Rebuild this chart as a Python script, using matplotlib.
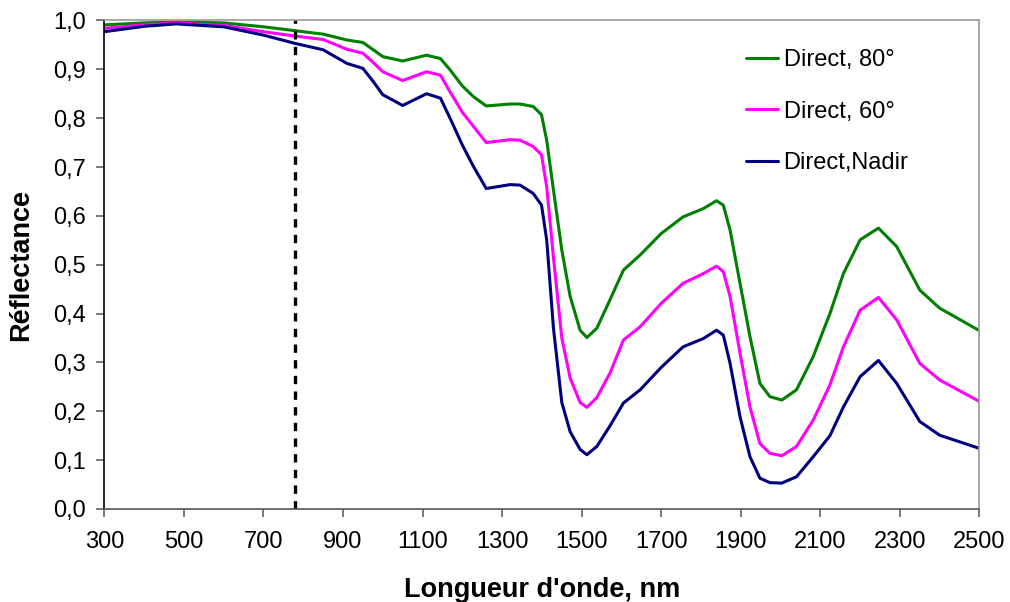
import matplotlib.pyplot as plt
import numpy as np

plt.rcParams['font.family'] = ['Liberation Sans', 'DejaVu Sans']

# Data
wavelength = [300, 400, 480, 600, 700, 780, 850, 910, 950, 976, 1000, 1050, 1110,
              1145, 1169, 1200, 1228, 1260, 1320, 1345, 1378, 1399, 1412, 1429,
              1450, 1471, 1496, 1513, 1538, 1571, 1605, 1647, 1700, 1755, 1806,
              1839, 1856, 1873, 1898, 1923, 1948, 1973, 2003, 2040, 2082, 2124,
              2158, 2200, 2246, 2292, 2350, 2400, 2500]

direct_80 = [0.991, 0.995, 0.997, 0.995, 0.987, 0.979, 0.972, 0.960, 0.955, 0.940,
             0.926, 0.917, 0.929, 0.922, 0.899, 0.866, 0.844, 0.825, 0.829, 0.829,
             0.824, 0.807, 0.755, 0.653, 0.530, 0.435, 0.366, 0.351, 0.370, 0.428,
             0.489, 0.520, 0.564, 0.598, 0.615, 0.631, 0.622, 0.571, 0.462, 0.353,
             0.257, 0.230, 0.223, 0.244, 0.312, 0.400, 0.482, 0.551, 0.575, 0.537,
             0.448, 0.411, 0.365]

direct_60 = [0.984, 0.991, 0.995, 0.990, 0.977, 0.968, 0.961, 0.941, 0.933, 0.914,
             0.895, 0.877, 0.895, 0.888, 0.854, 0.812, 0.783, 0.750, 0.756, 0.755,
             0.742, 0.725, 0.660, 0.515, 0.350, 0.268, 0.218, 0.208, 0.228, 0.278,
             0.346, 0.373, 0.421, 0.462, 0.482, 0.497, 0.486, 0.435, 0.319, 0.209,
             0.134, 0.114, 0.109, 0.128, 0.182, 0.254, 0.332, 0.407, 0.433, 0.387,
             0.298, 0.264, 0.220]

direct_nadir = [0.977, 0.988, 0.993, 0.987, 0.970, 0.953, 0.940, 0.912, 0.902, 0.875,
                0.848, 0.826, 0.850, 0.841, 0.800, 0.745, 0.701, 0.656, 0.664, 0.663,
                0.646, 0.622, 0.551, 0.370, 0.218, 0.158, 0.122, 0.111, 0.128, 0.170,
                0.217, 0.244, 0.290, 0.332, 0.349, 0.366, 0.356, 0.298, 0.189, 0.107,
                0.063, 0.054, 0.053, 0.066, 0.107, 0.150, 0.209, 0.271, 0.304, 0.257,
                0.179, 0.151, 0.124]

series_labels = ['Direct, 80°', 'Direct, 60°', 'Direct,Nadir']
series_colors = ['#008000', '#ff00ff', '#000080']

cutoff = 780
yticks = np.arange(0, 1.01, 0.1)

fig = plt.figure(figsize=(10.10, 6.02), dpi=100)
ax = fig.add_axes([0.1033, 0.1545, 0.8665, 0.8115])

for vals, lab, col in zip([direct_80, direct_60, direct_nadir], series_labels, series_colors):
    ax.plot(wavelength, vals, color=col, lw=2.2, label=lab,
            solid_joinstyle='round', solid_capstyle='round')

# dotted marker line at the cutoff wavelength
ax.axvline(cutoff, color='black', lw=2.4, linestyle=(0, (2.5, 2.2)))

ax.set_xlim(300, 2500)
ax.set_ylim(0, 1.0)
ax.set_xticks(np.arange(300, 2501, 200))
ax.set_yticks(yticks)
ax.set_yticklabels([f'{v:.1f}'.replace('.', ',') for v in yticks])

ax.set_xlabel("Longueur d'onde, nm", fontsize=19.5, fontweight='bold', labelpad=17)
ax.set_ylabel('Réflectance', fontsize=19.5, fontweight='bold', labelpad=14)

ax.spines['left'].set_color('black')
ax.spines['bottom'].set_color('#555555')
ax.spines['top'].set_color('#999999')
ax.spines['right'].set_color('#999999')
for s in ax.spines.values():
    s.set_linewidth(1.2)

ax.tick_params(axis='both', labelsize=17, length=6, width=1.1, color='#555555')
ax.tick_params(axis='x', pad=10)
ax.tick_params(axis='y', pad=7)

ax.legend(loc='upper left', bbox_to_anchor=(0.733, 0.941), frameon=False,
          fontsize=17, handlelength=1.35, handletextpad=0.25, labelspacing=1.24,
          borderaxespad=0, borderpad=0)

plt.savefig('out.png', dpi=100, facecolor='white')
